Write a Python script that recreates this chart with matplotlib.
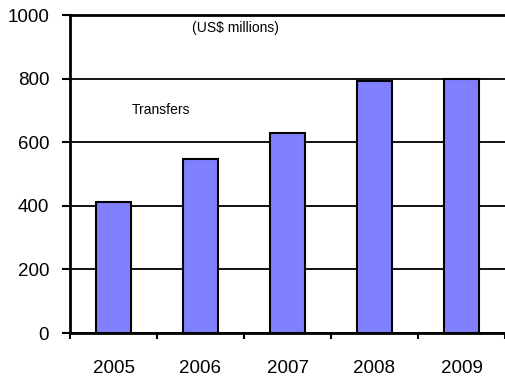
import matplotlib
matplotlib.use("Agg")
import matplotlib.pyplot as plt
import numpy as np

years = ["2005", "2006", "2007", "2008", "2009"]
transfers = [412, 547, 629, 793, 800]
yticks = [0, 200, 400, 600, 800, 1000]

plt.rcParams['font.family'] = ['Liberation Sans', 'DejaVu Sans']

fig = plt.figure(figsize=(5.05, 3.79), dpi=100)
ax = fig.add_axes([70/505, 46/379, 435/505, 318/379])

x = np.arange(len(years))
ax.bar(x, transfers, width=0.41, color="#8080FF", edgecolor="black", linewidth=1.5, zorder=3)

ax.set_xlim(-0.5, len(years) - 0.5)
ax.set_ylim(0, 1000)
ax.set_yticks(yticks)
ax.set_yticklabels([str(v) for v in yticks], fontsize=13.5)
ax.yaxis.grid(True, color="black", linewidth=1.3, zorder=0)

ax.set_xticks(x)
ax.set_xticklabels(years, fontsize=13.5)
ax.tick_params(axis="x", which="major", length=0, pad=19.5)
ax.set_xticks(np.arange(len(years) + 1) - 0.5, minor=True)
ax.tick_params(axis="x", which="minor", length=4, width=1.5, direction="out")
ax.tick_params(axis="y", length=6, width=1.5, pad=9)

ax.spines["right"].set_visible(False)
ax.spines["top"].set_linewidth(2)
ax.spines["left"].set_linewidth(2)
ax.spines["bottom"].set_linewidth(2)

ax.text(1.40, 958, "(US$ millions)", fontsize=10, ha="center", va="center")
ax.text(0.55, 700, "Transfers", fontsize=10, ha="center", va="center")

fig.savefig("out.png", dpi=100)
